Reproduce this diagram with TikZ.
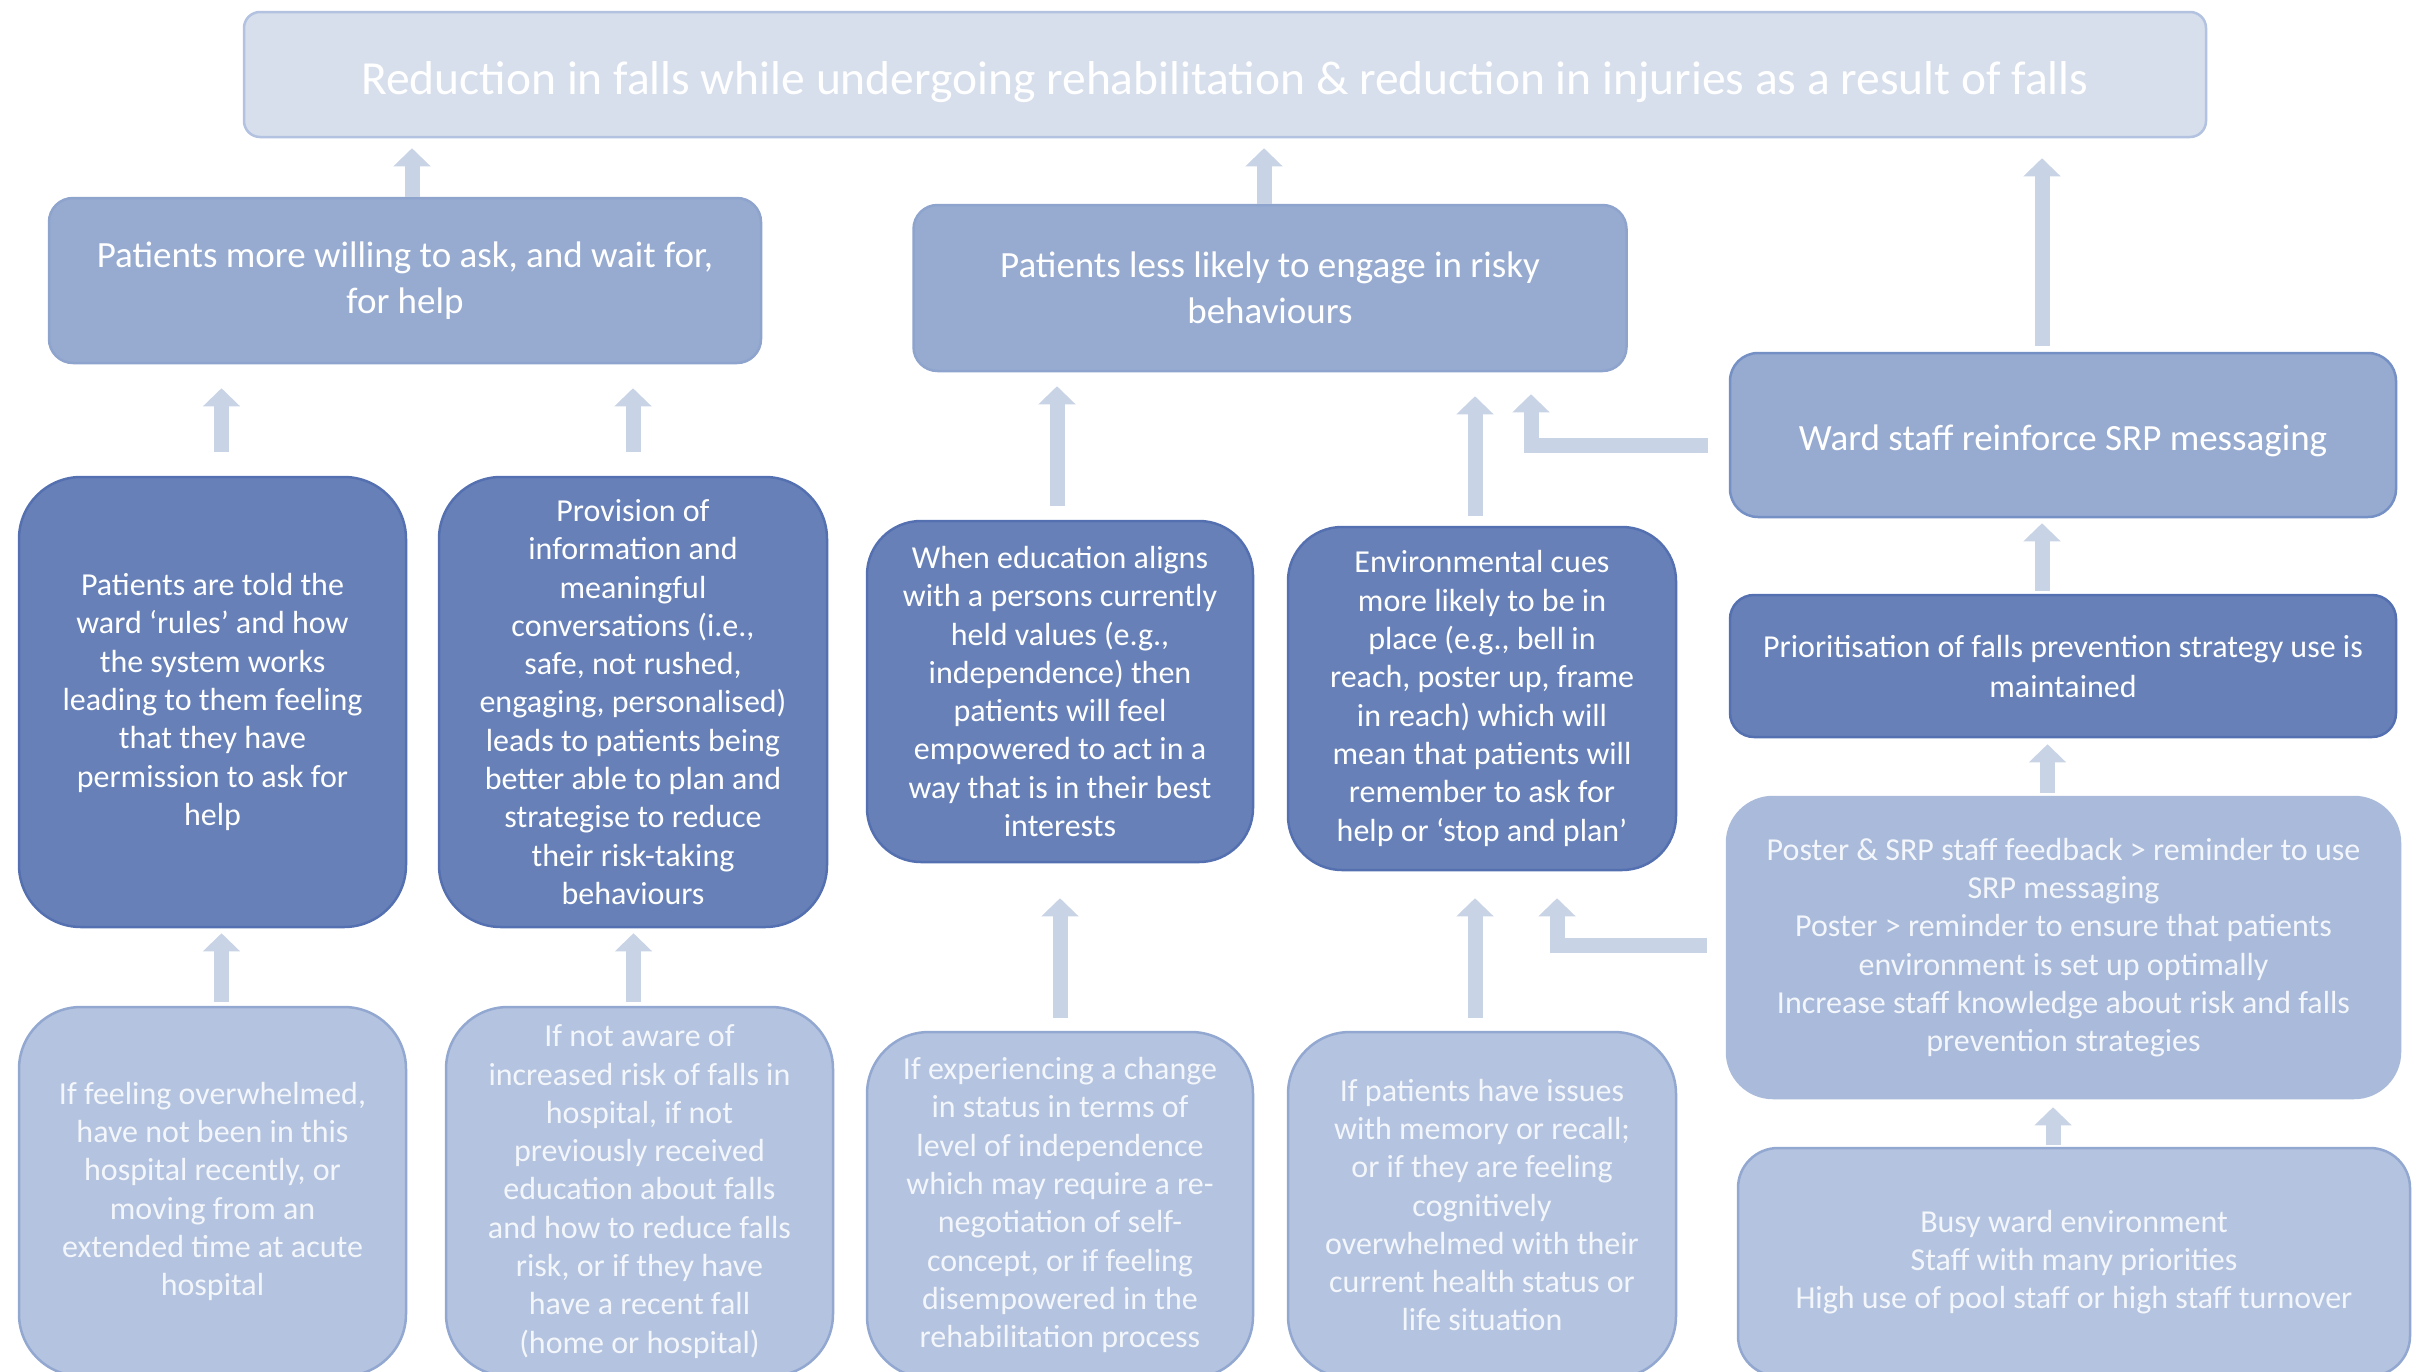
\documentclass[tikz,border=0pt]{standalone}
\usepackage{fontspec}
\setmainfont{Carlito}
\usetikzlibrary{arrows.meta,calc}
\definecolor{bannerfill}{HTML}{D7DFEC}
\definecolor{bannerline}{HTML}{B2C2E0}
\definecolor{midfill}{HTML}{97ABD1}
\definecolor{midline}{HTML}{8EA4CD}
\definecolor{wardline}{HTML}{7590C4}
\definecolor{darkfill}{HTML}{6781B8}
\definecolor{darkline}{HTML}{5470B0}
\definecolor{lightfill}{HTML}{B4C3DF}
\definecolor{lightline}{HTML}{92A8D1}
\definecolor{posterfill}{HTML}{A9BADA}
\definecolor{arrowc}{HTML}{C8D3E6}
\definecolor{lighttext}{HTML}{F3F6FA}
\begin{document}
\begin{tikzpicture}[x=1pt,y=-1pt,
  box/.style={draw, align=center, inner sep=0pt, line width=2.5pt, text=white,
    font=\fontsize{32}{38.3}\selectfont,
    execute at begin node={\rule{0pt}{1.0em}}},
  bannerbox/.style={box, fill=bannerfill, draw=bannerline, rounded corners=16pt,
    font=\fontsize{47.5}{56}\selectfont},
  midbox/.style={box, fill=midfill, draw=midline, rounded corners=24pt,
    font=\fontsize{37}{46}\selectfont},
  wardbox/.style={box, fill=midfill, draw=wardline, rounded corners=28pt,
    font=\fontsize{37}{46}\selectfont},
  darkbox/.style={box, fill=darkfill, draw=darkline, rounded corners=62pt},
  darkbox2/.style={box, fill=darkfill, draw=darkline, rounded corners=54pt},
  priobox/.style={box, fill=darkfill, draw=darkline, rounded corners=24pt,
    font=\fontsize{32}{40}\selectfont},
  lightbox/.style={box, fill=lightfill, draw=lightline, rounded corners=62pt, text=lighttext},
  posterbox/.style={box, fill=posterfill, draw=posterfill, rounded corners=46pt, text=lighttext},
  busybox/.style={box, fill=lightfill, draw=lightline, rounded corners=40pt, text=lighttext},
  blk/.style={draw=arrowc, line width=15pt, -{Triangle[width=36pt,length=18pt]}}
]
\useasboundingbox (0,0) rectangle (2422,1371);
\clip (0,0) rectangle (2422,1371);
\fill[white] (0,0) rectangle (2422,1371);

% top outcome
\node[bannerbox, minimum width=1962pt, minimum height=125pt] (top) at (1225,74.5)
  {Reduction in falls while undergoing rehabilitation \& reduction in injuries as a result of falls};

% second row
\node[midbox, minimum width=712pt, minimum height=165pt] (A) at (405,280.5)
  {Patients more willing to ask, and wait for,\\for help};
\node[midbox, minimum width=713pt, minimum height=166pt] (B) at (1270,288)
  {Patients less likely to engage in risky\\behaviours};
\node[wardbox, minimum width=666pt, minimum height=164pt] (ward) at (2063,435)
  {Ward staff reinforce SRP messaging};

% mechanisms
\node[darkbox, minimum width=387pt, minimum height=450pt] (C) at (212.5,702)
  {Patients are told the\\ward ‘rules’ and how\\the system works\\leading to them feeling\\that they have\\permission to ask for\\help};
\node[darkbox, minimum width=388pt, minimum height=450pt] (D) at (633,702)
  {Provision of\\information and\\meaningful\\conversations (i.e.,\\safe, not rushed,\\engaging, personalised)\\leads to patients being\\better able to plan and\\strategise to reduce\\their risk-taking\\behaviours};
\node[darkbox2, minimum width=386pt, minimum height=341pt] (E) at (1060,691.5)
  {When education aligns\\with a persons currently\\held values (e.g.,\\independence) then\\patients will feel\\empowered to act in a\\way that is in their best\\interests};
\node[darkbox2, minimum width=388pt, minimum height=343pt] (F) at (1482,698.5)
  {Environmental cues\\more likely to be in\\place (e.g., bell in\\reach, poster up, frame\\in reach) which will\\mean that patients will\\remember to ask for\\help or ‘stop and plan’};
\node[priobox, minimum width=666pt, minimum height=142pt] (prio) at (2063,666)
  {Prioritisation of falls prevention strategy use is\\maintained};

% contexts
\node[lightbox, minimum width=387pt, minimum height=369pt] (G) at (212.5,1191.5)
  {If feeling overwhelmed,\\have not been in this\\hospital recently, or\\moving from an\\extended time at acute\\hospital};
\node[lightbox, minimum width=387pt, minimum height=369pt] (H) at (639.5,1191.5)
  {If not aware of\\increased risk of falls in\\hospital, if not\\previously received\\education about falls\\and how to reduce falls\\risk, or if they have\\have a recent fall\\(home or hospital)};
\node[lightbox, minimum width=386pt, minimum height=346pt] (I) at (1060,1205)
  {If experiencing a change\\in status in terms of\\level of independence\\which may require a re-\\negotiation of self-\\concept, or if feeling\\disempowered in the\\rehabilitation process};
\node[lightbox, minimum width=388pt, minimum height=346pt] (J) at (1482,1205)
  {If patients have issues\\with memory or recall;\\or if they are feeling\\cognitively\\overwhelmed with their\\current health status or\\life situation};
\node[posterbox, minimum width=673pt, minimum height=301pt] (poster) at (2063.5,947.5)
  {Poster \& SRP staff feedback > reminder to use\\SRP messaging\\Poster > reminder to ensure that patients\\environment is set up optimally\\Increase staff knowledge about risk and falls\\prevention strategies};
\node[busybox, minimum width=672pt, minimum height=228pt] (busy) at (2074,1262)
  {Busy ward environment\\Staff with many priorities\\High use of pool staff or high staff turnover};

% connectors
\coordinate (p1) at ($(A.north)+(7,0)$);
\draw[blk, shorten >=10pt] (p1) -- (p1 |- top.south);
\coordinate (p2) at ($(B.north)+(-6,0)$);
\draw[blk, shorten >=10pt] (p2) -- (p2 |- top.south);
\coordinate (p3) at ($(ward.north)+(-21,0)$);
\draw[blk, shorten <=6pt, shorten >=20pt] (p3) -- (p3 |- top.south);
\coordinate (p4) at ($(C.north)+(9,0)$);
\draw[blk, shorten <=24pt, shorten >=24pt] (p4) -- (p4 |- A.south);
\coordinate (p5) at (D.north);
\draw[blk, shorten <=24pt, shorten >=24pt] (p5) -- (p5 |- A.south);
\coordinate (p6) at ($(E.north)+(-3,0)$);
\draw[blk, shorten <=14pt, shorten >=14pt] (p6) -- (p6 |- B.south);
\coordinate (p7) at ($(F.north)+(-7,0)$);
\draw[blk, shorten <=10pt, shorten >=24pt] (p7) -- (p7 |- B.south);
\coordinate (p8) at ($(ward.west)+(0,10)$);
\coordinate (q8) at ($(B.south)+(261,0)$);
\draw[blk, shorten <=21pt, shorten >=22pt] (p8) -| (q8);
\coordinate (p9) at ($(prio.north)+(-21,0)$);
\draw[blk, shorten <=3pt, shorten >=5pt] (p9) -- (p9 |- ward.south);
\coordinate (p10) at ($(poster.north)+(-16,0)$);
\draw[blk, shorten <=3pt, shorten >=6pt] (p10) -- (p10 |- prio.south);
\coordinate (p11) at ($(busy.north)+(-21,0)$);
\draw[blk, shorten <=2pt, shorten >=8pt] (p11) -- (p11 |- poster.south);
\coordinate (p12) at ($(G.north)+(9,0)$);
\draw[blk, shorten <=4pt, shorten >=5pt] (p12) -- (p12 |- C.south);
\coordinate (p13) at ($(H.north)+(-6,0)$);
\draw[blk, shorten <=4pt, shorten >=5pt] (p13) -- (p13 |- D.south);
\coordinate (p14) at (I.north);
\draw[blk, shorten <=13pt, shorten >=35pt] (p14) -- (p14 |- E.south);
\coordinate (p15) at ($(J.north)+(-7,0)$);
\draw[blk, shorten <=13pt, shorten >=27pt] (p15) -- (p15 |- F.south);
\coordinate (p16) at ($(poster.west)+(0,-2)$);
\coordinate (q16) at ($(F.south)+(75,0)$);
\draw[blk, shorten <=19pt, shorten >=27pt] (p16) -| (q16);
\end{tikzpicture}
\end{document}
